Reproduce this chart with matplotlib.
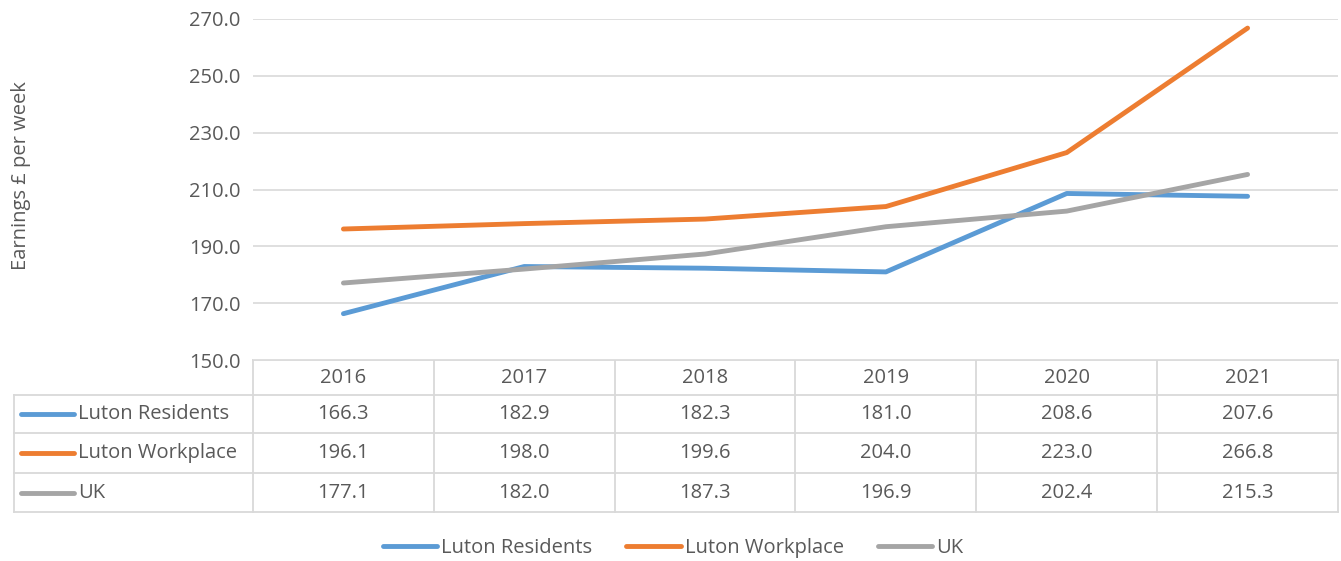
import matplotlib
matplotlib.use('Agg')
import matplotlib.pyplot as plt
from matplotlib.lines import Line2D

# --- data ---
years = ['2016', '2017', '2018', '2019', '2020', '2021']
luton_residents = [166.3, 182.9, 182.3, 181.0, 208.6, 207.6]
luton_workplace = [196.1, 198.0, 199.6, 204.0, 223.0, 266.8]
uk = [177.1, 182.0, 187.3, 196.9, 202.4, 215.3]
series_names = ['Luton Residents', 'Luton Workplace', 'UK']
yticks = [150, 170, 190, 210, 230, 250, 270]

colors = ['#5B9BD5', '#ED7D31', '#A5A5A5']
txt_col = '#595959'
grid_col = '#D9D9D9'
FS = 14.5

plt.rcParams['font.family'] = ['Open Sans', 'DejaVu Sans']

W, H = 1341, 561
fig = plt.figure(figsize=(W / 100, H / 100), dpi=100)

# pixel geometry (top-left origin)
px_l, px_r, px_t, px_b = 253, 1338, 19, 360
tab_l = 14
row_edges = [360, 395, 433, 473, 512]


def fx(x):
    return x / W


def fy(y):
    return 1 - y / H


ax = fig.add_axes([fx(px_l), fy(px_b), fx(px_r) - fx(px_l), fy(px_t) - fy(px_b)])
xs = list(range(len(years)))
for vals, c in zip([luton_residents, luton_workplace, uk], colors):
    ax.plot(xs, vals, color=c, lw=3.5, solid_capstyle='round', solid_joinstyle='round', zorder=3)

ax.set_xlim(-0.5, len(years) - 0.5)
ax.set_ylim(150, 270)
ax.set_yticks(yticks)
ax.set_yticklabels([f'{v:.1f}' for v in yticks], fontsize=FS, color=txt_col)
ax.set_xticks([])
for y in yticks:
    ax.axhline(y, color=grid_col, lw=1.2, zorder=1)
for s in ax.spines.values():
    s.set_visible(False)
ax.tick_params(axis='y', length=0, pad=9)
ax.set_ylabel('Earnings £ per week', fontsize=FS, color=txt_col)
ax.yaxis.set_label_coords(-0.205, 0.54)

# --- data table ---
tab = fig.add_axes([0, 0, 1, 1], zorder=-1)
tab.set_xlim(0, W)
tab.set_ylim(H, 0)
tab.axis('off')
col_w = (px_r - px_l) / len(years)
col_edges = [px_l + i * col_w for i in range(len(years) + 1)]
lkw = dict(color=grid_col, lw=1.3)
# horizontal lines
tab.plot([px_l, px_r], [row_edges[0]] * 2, **lkw)
for y in row_edges[1:]:
    tab.plot([tab_l, px_r], [y, y], **lkw)
# vertical lines
tab.plot([tab_l, tab_l], [row_edges[1], row_edges[-1]], **lkw)
for x in col_edges:
    tab.plot([x, x], [row_edges[0], row_edges[-1]], **lkw)

hdr_y = (row_edges[0] + row_edges[1]) / 2
for i, yr in enumerate(years):
    cx = (col_edges[i] + col_edges[i + 1]) / 2
    tab.text(cx, hdr_y, yr, ha='center', va='center', fontsize=FS, color=txt_col)

for r, (name, vals, c) in enumerate(zip(series_names, [luton_residents, luton_workplace, uk], colors)):
    cy = (row_edges[r + 1] + row_edges[r + 2]) / 2
    tab.plot([21, 74], [cy, cy], color=c, lw=3.5, solid_capstyle='round')
    tab.text(78, cy, name, ha='left', va='center', fontsize=FS, color=txt_col)
    for i, v in enumerate(vals):
        cx = (col_edges[i] + col_edges[i + 1]) / 2
        tab.text(cx, cy, f'{v:.1f}', ha='center', va='center', fontsize=FS, color=txt_col)

# --- bottom legend ---
handles = [Line2D([0], [0], color=c, lw=3.5, solid_capstyle='round') for c in colors]
fig.legend(handles, series_names, loc='center', bbox_to_anchor=(fx(673), fy(548)),
           ncol=3, frameon=False, fontsize=FS, labelcolor=txt_col,
           handlelength=2.7, handletextpad=0.2, columnspacing=1.7)

fig.savefig('out.png', dpi=100)
